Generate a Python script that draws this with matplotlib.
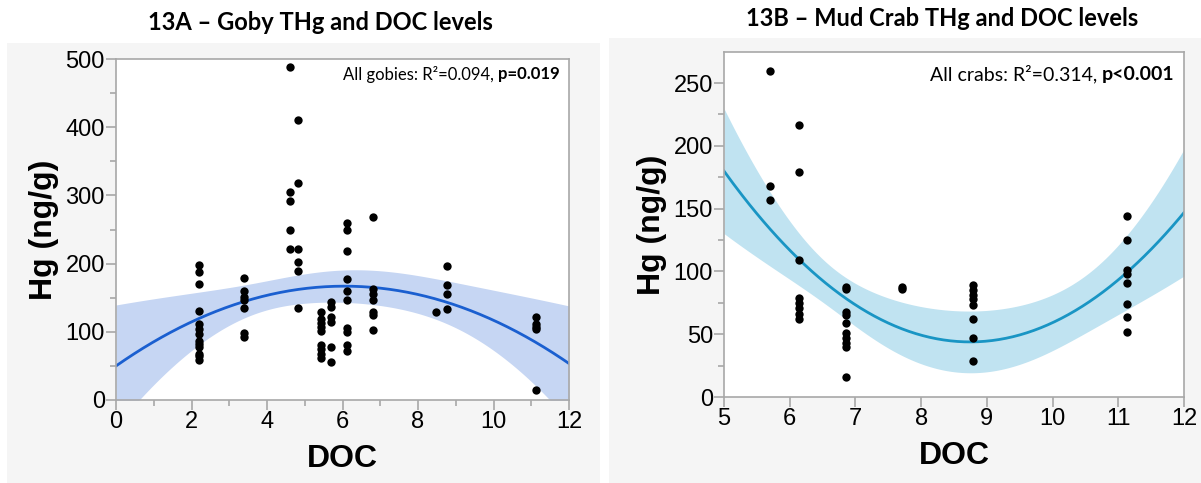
import numpy as np
import matplotlib
matplotlib.use('Agg')
import matplotlib.pyplot as plt
from matplotlib.patches import Rectangle

# Dados: DOC (x) e Hg em ng/g (y)
goby_doc = [2.2] * 13 + [3.4] * 7 + [4.62] * 5 + [4.83] * 6 + [5.43] * 9 + [5.69] * 6 \
    + [6.11] * 10 + [6.82] * 7 + [8.49] + [8.77] * 4 + [11.13] * 5
goby_hg = [198, 188, 170, 130, 111, 104, 97, 86, 82, 77, 68, 65, 59,
           179, 160, 151, 146, 135, 98, 92,
           488, 305, 292, 250, 222,
           410, 318, 222, 203, 189, 135,
           129, 119, 113, 107, 101, 80, 75, 68, 62,
           143, 136, 122, 114, 77, 55,
           260, 250, 218, 177, 160, 147, 106, 99, 80, 72,
           268, 163, 156, 146, 129, 125, 102,
           129,
           197, 168, 156, 134,
           122, 112, 107, 104, 14]

crab_doc = [5.7] * 3 + [6.14] * 8 + [6.85] * 10 + [7.71] * 2 + [8.79] * 8 + [11.14] * 8
crab_hg = [260, 168, 157,
           217, 179, 109, 79, 75, 71, 66, 62,
           88, 86, 68, 65, 59, 51, 47, 43, 40, 16,
           88, 86,
           89, 85, 81, 78, 73, 62, 47, 29,
           144, 125, 101, 98, 91, 74, 64, 52]

goby_coef = [49.9, 38.7, -3.2]
crab_coef = [786.2, -169.8, 9.71]

titulos = ['13A – Goby THg and DOC levels', '13B – Mud Crab THg and DOC levels']
anot_normal = ['All gobies: R²=0.094, ', 'All crabs: R²=0.314, ']
anot_negrito = ['p=0.019', 'p<0.001']


def banda_confianca(x, y, coef, xs, t=1.96):
    # Curva do ajuste e banda de confiança da média
    x = np.asarray(x, float)
    y = np.asarray(y, float)
    X = np.vstack([np.ones_like(x), x, x ** 2]).T
    resid = y - X @ np.asarray(coef)
    s2 = resid @ resid / (len(x) - 3)
    cov = s2 * np.linalg.inv(X.T @ X)
    Xs = np.vstack([np.ones_like(xs), xs, xs ** 2]).T
    fit = Xs @ np.asarray(coef)
    se = np.sqrt(np.einsum('ij,jk,ik->i', Xs, cov, Xs))
    return fit, fit - t * se, fit + t * se


fig = plt.figure(figsize=(12.01, 4.83), dpi=100)

# Fundo cinza claro de cada painel
fig.add_artist(Rectangle((7 / 1201, 0), 593 / 1201, 440 / 483, transform=fig.transFigure,
                         facecolor='#f5f5f5', edgecolor='none', zorder=0))
fig.add_artist(Rectangle((609 / 1201, 0), 592 / 1201, 445 / 483, transform=fig.transFigure,
                         facecolor='#f5f5f5', edgecolor='none', zorder=0))

ax1 = fig.add_axes([116 / 1201, 1 - 400 / 483, 453 / 1201, 341 / 483])
ax2 = fig.add_axes([724 / 1201, 1 - 397 / 483, 460 / 1201, 345.3 / 483])

paineis = [
    (ax1, goby_doc, goby_hg, goby_coef, (0, 12), (0, 500), 100, 50, 2, 1, '#1a5fd0', '#c6d6f3'),
    (ax2, crab_doc, crab_hg, crab_coef, (5, 12), (0, 275), 50, 25, 1, None, '#1995c4', '#c0e3f1'),
]

for ax, xd, yd, coef, xlim, ylim, ymaj, ymin, xmaj, xmin, cor_linha, cor_banda in paineis:
    xs = np.linspace(xlim[0], xlim[1], 200)
    fit, lo, hi = banda_confianca(xd, yd, coef, xs)
    ax.fill_between(xs, lo, hi, color=cor_banda, lw=0, zorder=1)
    ax.plot(xs, fit, color=cor_linha, lw=2, zorder=2)
    ax.scatter(xd, yd, s=36, color='black', zorder=3, linewidths=0)
    ax.set_xlim(xlim)
    ax.set_ylim(ylim)
    ax.set_yticks(np.arange(0, ylim[1] + 1, ymaj))
    ax.set_yticks(np.arange(ymin, ylim[1], ymaj), minor=True)
    ax.set_xticks(np.arange(xlim[0], xlim[1] + 0.1, xmaj))
    if xmin:
        ax.set_xticks(np.arange(xlim[0] + xmin, xlim[1], xmaj), minor=True)
    for sp in ax.spines.values():
        sp.set_color('#a8a8a8')
        sp.set_linewidth(1.2)
    ax.tick_params(which='both', color='#a8a8a8', width=1.2, labelsize=17, pad=1)
    ax.tick_params(which='major', length=7)
    ax.tick_params(which='minor', length=4)
    for lab in ax.get_xticklabels() + ax.get_yticklabels():
        lab.set_fontfamily('Liberation Sans')
    ax.set_xlabel('DOC', fontsize=23, fontweight='bold', family='Liberation Sans', labelpad=8)
    ax.set_ylabel('Hg (ng/g)', fontsize=23, fontweight='bold', family='Liberation Sans', labelpad=5)

# Títulos
fig.text(320 / 1201, 1 - 22 / 483, titulos[0], ha='center', va='center',
         fontsize=17, fontweight='bold', family='Lato')
fig.text(942 / 1201, 1 - 18 / 483, titulos[1], ha='center', va='center',
         fontsize=17, fontweight='bold', family='Lato')

# Anotações: parte em negrito à direita, texto normal logo antes
fig.canvas.draw()
renderer = fig.canvas.get_renderer()
for ax, yy, tam, normal, negrito in [(ax1, 0.955, 12, anot_normal[0], anot_negrito[0]),
                                     (ax2, 0.935, 14, anot_normal[1], anot_negrito[1])]:
    tb = ax.text(0.98, yy, negrito, transform=ax.transAxes, ha='right', va='center',
                 fontsize=tam, fontweight='bold', family='Lato')
    bb = tb.get_window_extent(renderer)
    px, py = ax.transAxes.transform((0.98, yy))
    ax.text(bb.x0, py, normal, transform=None, ha='right', va='center',
            fontsize=tam, family='Lato')

plt.savefig('out.png', dpi=100)
